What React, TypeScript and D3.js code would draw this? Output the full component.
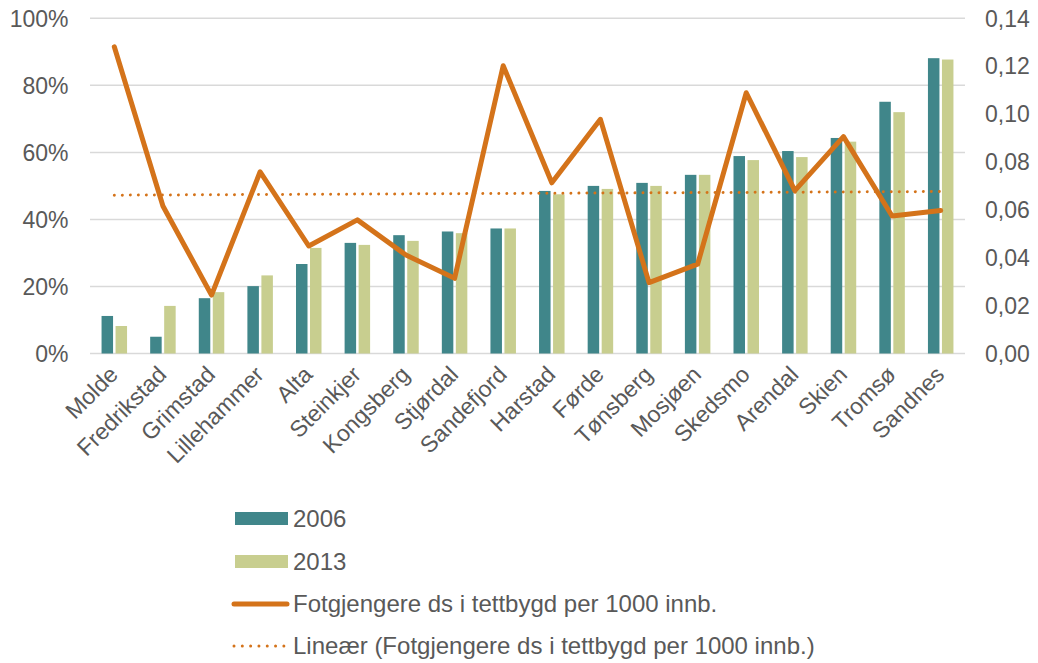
import React from "react";
import * as d3 from "d3";

const categories = ["Molde","Fredrikstad","Grimstad","Lillehammer","Alta","Steinkjer","Kongsberg","Stjørdal","Sandefjord","Harstad","Førde","Tønsberg","Mosjøen","Skedsmo","Arendal","Skien","Tromsø","Sandnes"];
const values2006 = [11.2,5.0,16.5,20.1,26.7,33.0,35.3,36.4,37.3,48.5,50.0,50.9,53.3,58.9,60.4,64.3,75.1,88.1];
const values2013 = [8.2,14.2,18.3,23.3,31.5,32.4,33.6,35.9,37.3,47.5,49.1,50.0,53.3,57.7,58.6,63.2,72.0,87.7];
const pedestrians = [0.1281,0.0616,0.0244,0.0759,0.0449,0.0558,0.0411,0.0314,0.1202,0.0713,0.0978,0.0296,0.0373,0.1089,0.0680,0.0906,0.0574,0.0597];
const leftTicks = [0,20,40,60,80,100];
const rightTicks = [0,0.02,0.04,0.06,0.08,0.10,0.12,0.14];
const legendLabels = ["2006","2013","Fotgjengere ds i tettbygd per 1000 innb.","Lineær (Fotgjengere ds i tettbygd per 1000 innb.)"];

const C_TEAL = "#40868A";
const C_GREEN = "#C8CE8F";
const C_ORANGE = "#D4731A";
const C_TEXT = "#595959";
const C_GRID = "#D9D9D9";
const FONT = "'Liberation Sans', Arial, sans-serif";

export default function App() {
  const W = 1038, H = 663;
  const left = 90, right = 965, top = 18.3, bottom = 353.5;
  const x = d3.scaleBand<string>().domain(categories).range([left, right]).paddingInner(0).paddingOuter(0);
  const yL = d3.scaleLinear().domain([0, 100]).range([bottom, top]);
  const yR = d3.scaleLinear().domain([0, 0.14]).range([bottom, top]);
  const bw = 11.5, gap = 2.5;

  const cx = (c: string) => (x(c) as number) + x.bandwidth() / 2;
  const line = d3.line<number>().x((_, i) => cx(categories[i])).y(d => yR(d));

  // linear trendline (least squares) on index
  const n = pedestrians.length;
  const xs = d3.range(n);
  const mx = d3.mean(xs) as number, my = d3.mean(pedestrians) as number;
  const slope = d3.sum(xs, i => (i - mx) * (pedestrians[i] - my)) / d3.sum(xs, i => (i - mx) ** 2);
  const intercept = my - slope * mx;
  const trend = [0, n - 1].map(i => intercept + slope * i);

  const fmtR = (v: number) => v.toFixed(2).replace(".", ",");
  const fs = 23;
  const lfs = 24;

  return (
    <svg width={W} height={H} style={{ display: "block", position: "absolute", left: 0, top: 0 }} fontFamily={FONT}>
      <rect width={W} height={H} fill="#fff" />
      {leftTicks.map(t => (
        <line key={t} x1={left} x2={right} y1={yL(t)} y2={yL(t)} stroke={C_GRID} strokeWidth={1.5} />
      ))}
      {leftTicks.map(t => (
        <text key={"l" + t} x={68.5} y={yL(t)} dy="0.36em" textAnchor="end" fontSize={fs} fill={C_TEXT}>{t}%</text>
      ))}
      {rightTicks.map(t => (
        <text key={"r" + t} x={985} y={yR(t)} dy="0.36em" textAnchor="start" fontSize={fs} fill={C_TEXT}>{fmtR(t)}</text>
      ))}
      {categories.map((c, i) => (
        <g key={c}>
          <rect x={cx(c) - gap / 2 - bw} y={yL(values2006[i])} width={bw} height={bottom - yL(values2006[i])} fill={C_TEAL} />
          <rect x={cx(c) + gap / 2} y={yL(values2013[i])} width={bw} height={bottom - yL(values2013[i])} fill={C_GREEN} />
        </g>
      ))}
      <line x1={cx(categories[0])} x2={cx(categories[n - 1])} y1={yR(trend[0])} y2={yR(trend[1])}
        stroke={C_ORANGE} strokeWidth={3} strokeLinecap="round" strokeDasharray="0.01 8" />
      <path d={line(pedestrians) as string} fill="none" stroke={C_ORANGE} strokeWidth={5} strokeLinejoin="round" strokeLinecap="round" />
      {categories.map(c => (
        <text key={"c" + c} transform={`translate(${cx(c) + 5},${376}) rotate(-45)`} textAnchor="end" fontSize={fs} fill={C_TEXT}>{c}</text>
      ))}
      {/* legend */}
      <rect x={235} y={512} width={53} height={13} fill={C_TEAL} />
      <text x={293} y={526.5} fontSize={lfs} fill={C_TEXT}>{legendLabels[0]}</text>
      <rect x={235} y={555} width={53} height={13} fill={C_GREEN} />
      <text x={293} y={570} fontSize={lfs} fill={C_TEXT}>{legendLabels[1]}</text>
      <line x1={234} x2={287} y1={604} y2={604} stroke={C_ORANGE} strokeWidth={5} strokeLinecap="round" />
      <text x={293} y={612} fontSize={lfs} fill={C_TEXT}>{legendLabels[2]}</text>
      <line x1={234} x2={287} y1={646} y2={646} stroke={C_ORANGE} strokeWidth={3} strokeLinecap="round" strokeDasharray="0.01 8.3" />
      <text x={293} y={654} fontSize={lfs} fill={C_TEXT}>{legendLabels[3]}</text>
    </svg>
  );
}
